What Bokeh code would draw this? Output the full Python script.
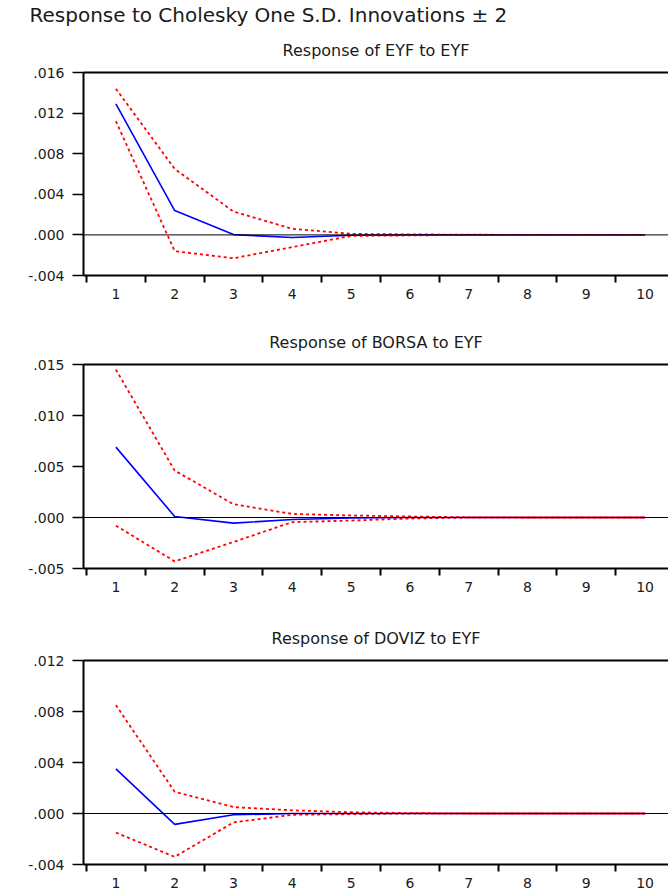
from bokeh.plotting import figure
from bokeh.layouts import column
from bokeh.models import Range1d, FixedTicker, LinearAxis, Span, Title
from bokeh.embed import file_html
from bokeh.resources import INLINE

# ---------------- data ----------------
periods = [1, 2, 3, 4, 5, 6, 7, 8, 9, 10]
x_tick_labels = ["1", "2", "3", "4", "5", "6", "7", "8", "9", "10"]
x_minor_ticks = [0.5, 1.5, 2.5, 3.5, 4.5, 5.5, 6.5, 7.5, 8.5, 9.5, 10.5]

main_title = "Response to Cholesky One S.D. Innovations \u00b1 2"

title_1 = "Response of EYF to EYF"
resp_1 = [0.0129, 0.0024, 0.00003, -0.00025, -0.00003, 0.0, 0.0, 0.0, 0.0, 0.0]
upper_1 = [0.0144, 0.0065, 0.0023, 0.0006, 0.0001, 0.00005, 0.00002, 0.0, 0.0, 0.0]
lower_1 = [0.0112, -0.0016, -0.0023, -0.0012, -0.0001, -0.00005, 0.0, 0.0, 0.0, 0.0]
y_ticks_1 = [-0.004, 0.0, 0.004, 0.008, 0.012, 0.016]
y_labels_1 = ["-.004", ".000", ".004", ".008", ".012", ".016"]

title_2 = "Response of BORSA to EYF"
resp_2 = [0.0069, 0.0001, -0.00055, -0.0002, -0.00005, 0.0, 0.0, 0.0, 0.0, 0.0]
upper_2 = [0.0145, 0.0046, 0.0013, 0.00035, 0.0002, 0.0001, 0.00002, 0.0, 0.0, 0.0]
lower_2 = [-0.0008, -0.0043, -0.0024, -0.00045, -0.0003, -0.0001, 0.0, 0.0, 0.0, 0.0]
y_ticks_2 = [-0.005, 0.0, 0.005, 0.010, 0.015]
y_labels_2 = ["-.005", ".000", ".005", ".010", ".015"]

title_3 = "Response of DOVIZ to EYF"
resp_3 = [0.0035, -0.00085, -0.0001, 0.0, 0.0, 0.0, 0.0, 0.0, 0.0, 0.0]
upper_3 = [0.0085, 0.0017, 0.0005, 0.00025, 0.0001, 0.00003, 0.0, 0.0, 0.0, 0.0]
lower_3 = [-0.0015, -0.0034, -0.0007, -0.0001, -0.00005, 0.0, 0.0, 0.0, 0.0, 0.0]
y_ticks_3 = [-0.004, 0.0, 0.004, 0.008, 0.012]
y_labels_3 = ["-.004", ".000", ".004", ".008", ".012"]

FONT = "DejaVu Sans"
TXT = "#1a1a1a"


def make_panel(sub, resp, upper, lower, yticks, ylabels, height, top, bottom, with_main=False):
    p = figure(width=668, height=height, output_backend="svg", toolbar_location=None,
               x_range=Range1d(0.449, 10.398), y_range=Range1d(yticks[0], yticks[-1]),
               min_border_left=83, min_border_right=0, min_border_top=top,
               min_border_bottom=bottom)
    p.outline_line_color = None
    p.xgrid.visible = False
    p.ygrid.visible = False
    p.background_fill_color = "white"
    p.border_fill_color = "white"

    # x axis: labels at periods, tick marks between them
    xa = p.xaxis[0]
    xa.ticker = FixedTicker(ticks=periods, minor_ticks=x_minor_ticks)
    xa.major_label_overrides = {per: lab for per, lab in zip(periods, x_tick_labels)}
    xa.major_tick_line_color = None
    xa.minor_tick_in = 0
    xa.minor_tick_out = 7
    xa.minor_tick_line_width = 2
    xa.minor_tick_line_color = "black"
    xa.axis_line_width = 2
    xa.axis_line_color = "black"
    xa.major_label_standoff = 6
    xa.major_label_text_font = FONT
    xa.major_label_text_font_size = "14px"
    xa.major_label_text_color = TXT

    ya = p.yaxis[0]
    ya.ticker = FixedTicker(ticks=yticks)
    ya.major_label_overrides = {t: lab for t, lab in zip(yticks, ylabels)}
    ya.minor_tick_line_color = None
    ya.major_tick_in = 0
    ya.major_tick_out = 11
    ya.major_tick_line_width = 1.5
    ya.major_tick_line_color = "black"
    ya.axis_line_width = 2
    ya.axis_line_color = "black"
    ya.major_label_standoff = 8
    ya.major_label_text_font = FONT
    ya.major_label_text_font_size = "14px"
    ya.major_label_text_color = TXT

    # top border
    top_axis = LinearAxis(ticker=FixedTicker(ticks=[]), axis_line_width=2,
                          axis_line_color="black", major_tick_line_color=None,
                          minor_tick_line_color=None, major_label_text_color=None)
    p.add_layout(top_axis, "above")

    p.add_layout(Title(text=sub, align="center", text_font=FONT, text_font_size="16px",
                       text_font_style="normal", text_color=TXT, standoff=25), "above")
    if with_main:
        p.add_layout(Title(text=main_title, align="left", text_font=FONT,
                           text_font_size="20px", text_font_style="normal",
                           text_color=TXT, offset=-54, standoff=0), "above")

    p.add_layout(Span(location=0, dimension="width", line_color="black", line_width=1))
    p.line(periods, resp, line_color="#0000ff", line_width=1.6)
    p.line(periods, upper, line_color="#ff0000", line_width=1.8, line_dash="3 3")
    p.line(periods, lower, line_color="#ff0000", line_width=1.8, line_dash="3 3")
    return p


f1 = make_panel(title_1, resp_1, upper_1, lower_1, y_ticks_1, y_labels_1, 309, 71, 34, True)
f2 = make_panel(title_2, resp_2, upper_2, lower_2, y_ticks_2, y_labels_2, 293, 55, 34)
f3 = make_panel(title_3, resp_3, upper_3, lower_3, y_ticks_3, y_labels_3, 289, 58, 27)

layout = column(f1, f2, f3, spacing=0)
open("out.html", "w").write(file_html(layout, INLINE))
